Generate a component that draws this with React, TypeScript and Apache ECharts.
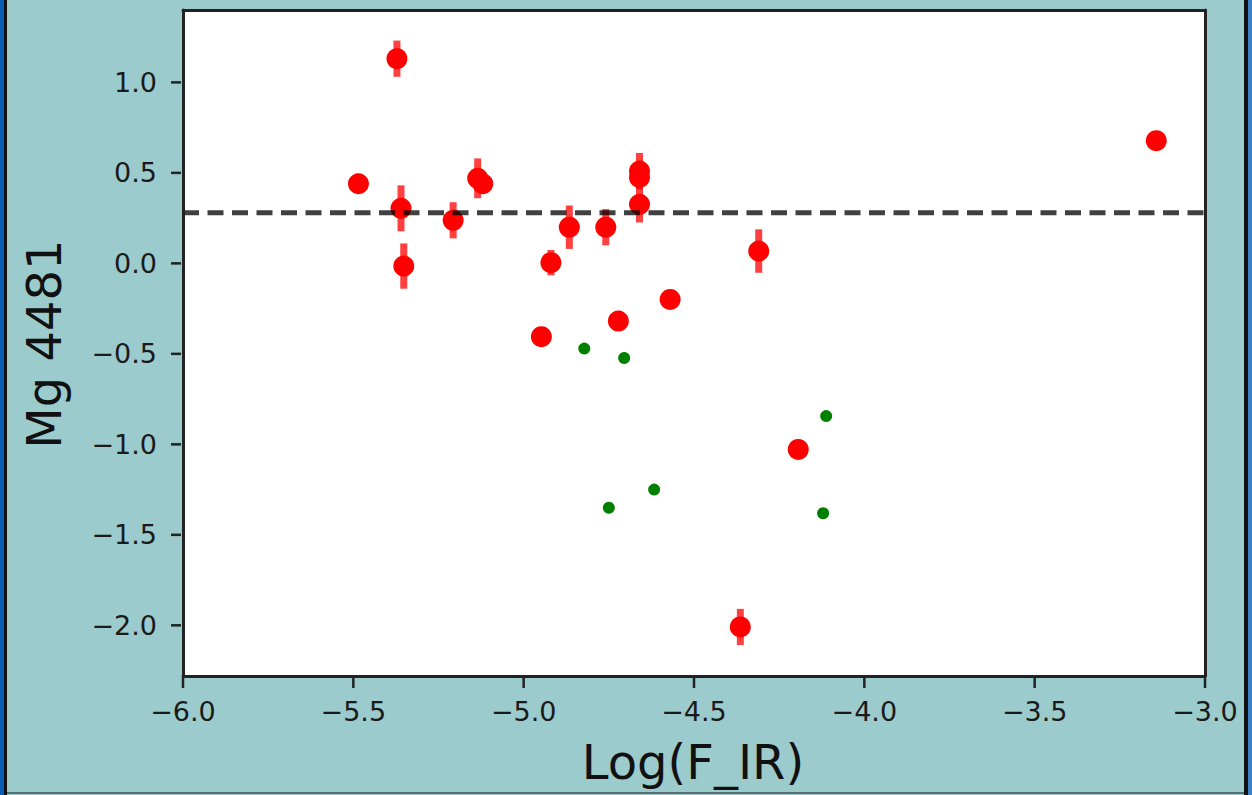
import React, { useEffect, useRef } from "react";
import * as echarts from "echarts";

// ---- data ----
const redX = [-5.372, -5.485, -5.36, -5.352, -5.207, -5.135, -5.12, -4.866, -4.759, -4.66, -4.66, -4.66, -4.92, -4.31, -4.57, -4.722, -4.948, -4.194, -4.364, -3.143];
const redY = [1.131, 0.44, 0.304, -0.015, 0.238, 0.47, 0.44, 0.2, 0.2, 0.51, 0.475, 0.326, 0.004, 0.068, -0.199, -0.319, -0.405, -1.028, -2.009, 0.678];
const redErr = [0.1, 0, 0.127, 0.125, 0.1, 0.11, 0, 0.12, 0.1, 0.1, 0, 0.1, 0.07, 0.12, 0, 0, 0, 0.03, 0.1, 0];
const greenX = [-4.822, -4.705, -4.112, -4.617, -4.75, -4.121];
const greenY = [-0.471, -0.523, -0.844, -1.25, -1.35, -1.381];
const hLineY = 0.28;
const xTicks = [-6.0, -5.5, -5.0, -4.5, -4.0, -3.5, -3.0];
const yTicks = [-2.0, -1.5, -1.0, -0.5, 0.0, 0.5, 1.0];
const xRange = [-6.0, -3.0];
const yRange = [-2.28, 1.4];
const xTitle = "Log(F_IR)";
const yTitle = "Mg 4481";

const fmt = (v: number) => (v < 0 ? "\u2212" : "") + Math.abs(v).toFixed(1);
const FONT = "DejaVu Sans";
const TICK_LEN = 10;
const TICK_W = 2.5;
const TICK_COLOR = "#222222";
const LABEL_COLOR = "#1a1a1a";

const spine = { show: true, onZero: false, lineStyle: { color: "#222", width: 3 } };

export default function App() {
  const ref = useRef<HTMLDivElement>(null);
  useEffect(() => {
    if (!ref.current) return;
    const chart = echarts.init(ref.current, null, { renderer: "svg" });
    const errData = redX
      .map((x, i) => [x, redY[i], redErr[i]])
      .filter((d) => d[2] > 0);
    const option: any = {
      animation: false,
      backgroundColor: "#9bcbcc",
      grid: {
        left: 183,
        right: 47,
        top: 10,
        bottom: 119,
        show: true,
        backgroundColor: "#ffffff",
        borderWidth: 0,
      },
      xAxis: [
        {
          type: "value",
          position: "bottom",
          min: xRange[0],
          max: xRange[1],
          z: 5,
          splitLine: { show: false },
          axisLine: spine,
          axisTick: { show: false },
          axisLabel: {
            customValues: xTicks,
            margin: 2,
            formatter: (v: number) => "{t| }\n{l|" + fmt(v) + "}",
            rich: {
              t: { width: TICK_W, height: TICK_LEN, lineHeight: TICK_LEN, fontSize: 1, backgroundColor: TICK_COLOR },
              l: { fontFamily: FONT, fontSize: 27, color: LABEL_COLOR, lineHeight: 46 },
            },
          },
        },
        {
          type: "value",
          position: "top",
          min: xRange[0],
          max: xRange[1],
          z: 5,
          splitLine: { show: false },
          axisLine: spine,
          axisTick: { show: false },
          axisLabel: { show: false },
        },
      ],
      yAxis: [
        {
          type: "value",
          position: "left",
          min: yRange[0],
          max: yRange[1],
          z: 5,
          splitLine: { show: false },
          axisLine: spine,
          axisTick: { show: false },
          axisLabel: {
            customValues: yTicks,
            margin: 2,
            formatter: (v: number) => "{l|" + fmt(v) + "}{g| }{t| }",
            rich: {
              l: { fontFamily: FONT, fontSize: 27, color: LABEL_COLOR },
              g: { width: 14, fontSize: 1 },
              t: { width: TICK_LEN, height: TICK_W, fontSize: 1, backgroundColor: TICK_COLOR },
            },
          },
        },
        {
          type: "value",
          position: "right",
          min: yRange[0],
          max: yRange[1],
          z: 5,
          splitLine: { show: false },
          axisLine: spine,
          axisTick: { show: false },
          axisLabel: { show: false },
        },
      ],
      graphic: [
        { type: "rect", left: 0, top: 0, shape: { width: 4, height: 795 }, style: { fill: "#0b5cb3" }, z: 10 },
        { type: "rect", left: 4, top: 0, shape: { width: 3, height: 795 }, style: { fill: "#111111" }, z: 10 },
        { type: "rect", left: 1244, top: 0, shape: { width: 4, height: 795 }, style: { fill: "#111111" }, z: 10 },
        { type: "rect", left: 1248, top: 0, shape: { width: 4, height: 795 }, style: { fill: "#3c80c8" }, z: 10 },
        { type: "rect", left: 7, top: 792, shape: { width: 1237, height: 2 }, style: { fill: "#5a7070" }, z: 10 },
        {
          type: "text",
          x: 693,
          y: 762,
          style: { text: xTitle, fontFamily: FONT, fontSize: 48, fill: "#111", align: "center", verticalAlign: "middle" },
          z: 10,
        },
        {
          type: "text",
          x: 44,
          y: 344,
          rotation: Math.PI / 2,
          style: { text: yTitle, fontFamily: FONT, fontSize: 48, fill: "#111", align: "center", verticalAlign: "middle" },
          z: 10,
        },
      ],
      series: [
        {
          type: "custom",
          z: 2,
          data: errData,
          encode: { x: 0, y: 1 },
          renderItem: (params: any, api: any) => {
            const x = api.value(0);
            const y = api.value(1);
            const e = api.value(2);
            const p1 = api.coord([x, y + e]);
            const p2 = api.coord([x, y - e]);
            return {
              type: "line",
              shape: { x1: p1[0], y1: p1[1], x2: p2[0], y2: p2[1] },
              style: { stroke: "rgba(255,0,0,0.75)", lineWidth: 7 },
            };
          },
        },
        {
          type: "scatter",
          z: 3,
          symbol: "circle",
          symbolSize: 21,
          itemStyle: { color: "#ff0000", opacity: 1 },
          data: redX.map((x, i) => [x, redY[i]]),
        },
        {
          type: "scatter",
          z: 3,
          symbol: "circle",
          symbolSize: 12,
          itemStyle: { color: "#008000", opacity: 1 },
          data: greenX.map((x, i) => [x, greenY[i]]),
        },
        {
          type: "line",
          z: 4,
          symbol: "none",
          lineStyle: { color: "rgba(0,0,0,0.75)", width: 5, type: [16, 8.5] },
          data: [
            [xRange[0], hLineY],
            [xRange[1], hLineY],
          ],
        },
      ],
    };
    chart.setOption(option);
    return () => chart.dispose();
  }, []);
  return <div ref={ref} style={{ position: "fixed", left: 0, top: 0, width: 1252, height: 795 }} />;
}
